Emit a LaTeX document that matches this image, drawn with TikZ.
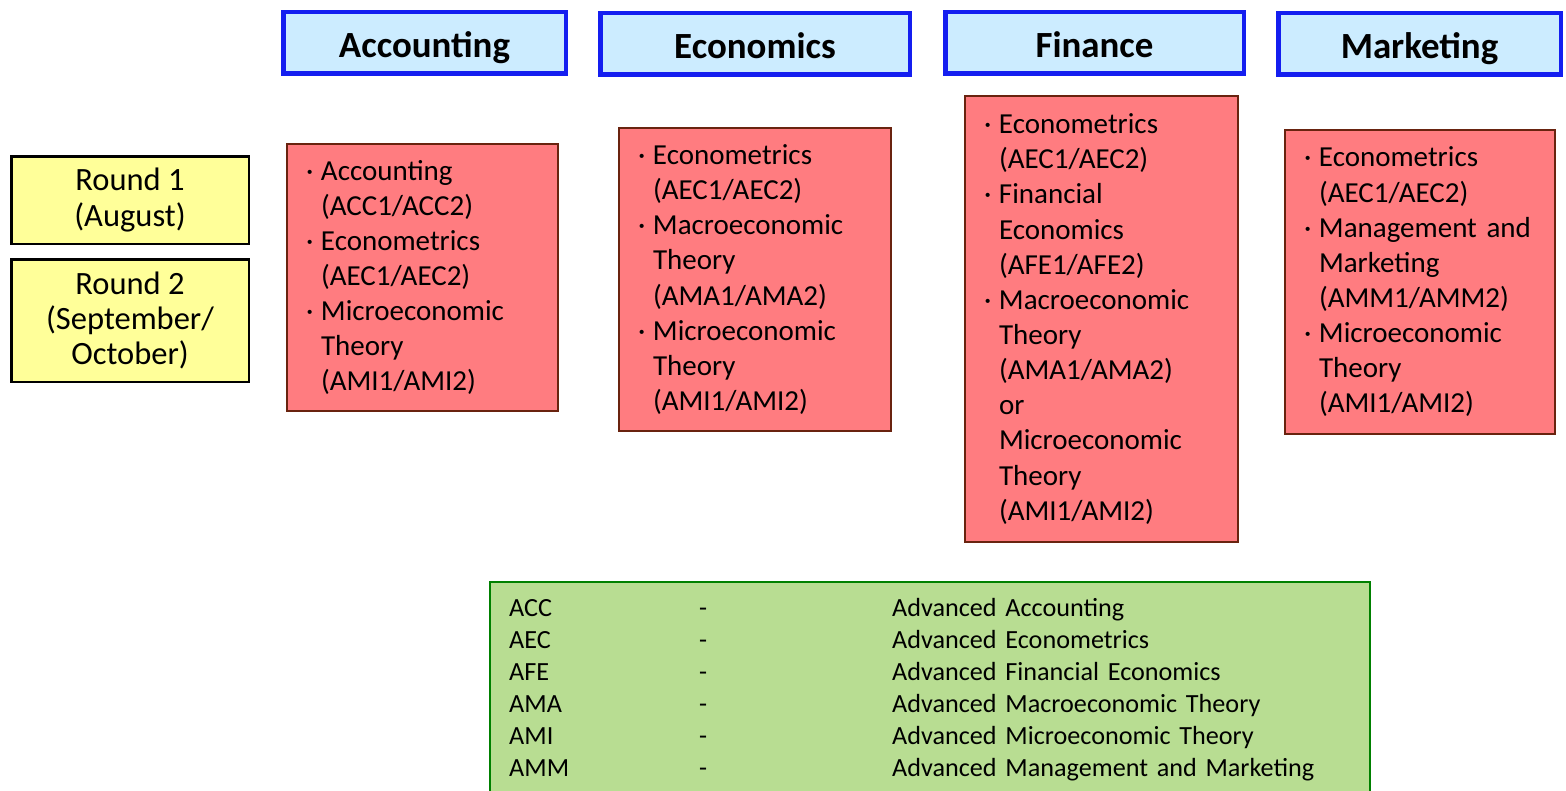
\documentclass[tikz,border=0pt]{standalone}
\usepackage{fontspec}
\setmainfont{Carlito}
\usetikzlibrary{matrix, positioning}
\definecolor{headfill}{RGB}{204,236,255}
\definecolor{headline}{RGB}{20,30,240}
\definecolor{roundfill}{RGB}{255,255,153}
\definecolor{coursefill}{RGB}{255,124,128}
\definecolor{courseline}{RGB}{105,35,15}
\definecolor{keyfill}{RGB}{184,221,146}
\definecolor{keyline}{RGB}{0,128,0}
\newcommand{\bul}{\makebox[0.3cm][l]{·}}
\newcommand{\ind}{\hspace*{0.3cm}}
\tikzset{
		headbox/.style={
			rectangle,
			draw=headline,
			fill=headfill,
			line width=0.09cm,
			minimum height=1.23cm,
			text height=0.71cm,
			text depth=0.15cm,
			font=\fontsize{21}{25}\selectfont\bfseries,
			inner sep=0pt,
			outer sep=0pt
		},
		roundbox/.style={
			rectangle,
			draw=black,
			fill=roundfill,
			line width=0.05cm,
			minimum width=4.75cm,
			align=center,
			font=\fontsize{18.5}{20}\selectfont,
			inner sep=0pt,
			outer sep=0pt
		},
		coursebox/.style={
			rectangle,
			draw=courseline,
			fill=coursefill,
			line width=0.03cm,
			anchor=north west,
			align=left,
			font=\fontsize{16.5}{20}\selectfont,
			inner xsep=0.38cm,
			inner ysep=0pt,
			outer sep=0pt
		},
		keybox/.style={
			rectangle,
			draw=keyline,
			fill=keyfill,
			line width=0.04cm,
			anchor=north west,
			minimum width=17.6cm,
			minimum height=5cm,
			outer sep=0pt
		},
		key table/.style={
			matrix of nodes,
			row sep=0.12cm,
			column sep=0pt,
			nodes={
				anchor=west,
				align=left,
				font=\fontsize{14.9}{18}\selectfont,
				text height=0.4cm,
				text depth=0.12cm,
				inner sep=0pt
			},
			column 1/.style={nodes={text width=3.8cm}},
			column 2/.style={nodes={text width=3.86cm}},
			column 3/.style={nodes={text width=9cm}}
		}
	}
\begin{document}
\begin{tikzpicture}
		\useasboundingbox (0,0) rectangle (31.32,-15.82);
		%subjects:
		\node[headbox, minimum width=5.65cm] (acc) at (8.49,-0.86) {Accounting};
		\node[headbox, minimum width=6.19cm] (eco) at (15.10,-0.88) {Economics};
		\node[headbox, minimum width=5.97cm] (fin) at (21.89,-0.86) {Finance};
		\node[headbox, minimum width=5.65cm] (mkt) at (28.39,-0.88) {Marketing};
		%rounds:
		\node[roundbox, minimum height=1.75cm] (r1) at (2.6,-4.0) {Round 1\\(August)};
		\node[roundbox, minimum height=2.45cm, below=0.31cm of r1] (r2) {Round 2\\(September/\\October)};
		%courses:
		\node[coursebox, text width=4.66cm, minimum height=5.34cm] (acc-c) at (5.74,-2.88)
			{\bul Accounting\\ \ind(ACC1/ACC2)\\ \bul Econometrics\\ \ind(AEC1/AEC2)\\
			 \bul Microeconomic\\ \ind Theory\\ \ind(AMI1/AMI2)};
		\node[coursebox, text width=4.68cm, minimum height=6.06cm] (eco-c) at (12.38,-2.56)
			{\bul Econometrics\\ \ind(AEC1/AEC2)\\ \bul Macroeconomic\\ \ind Theory\\ \ind(AMA1/AMA2)\\
			 \bul Microeconomic\\ \ind Theory\\ \ind(AMI1/AMI2)};
		\node[coursebox, text width=4.70cm, minimum height=8.92cm] (fin-c) at (19.30,-1.92)
			{\bul Econometrics\\ \ind(AEC1/AEC2)\\ \bul Financial\\ \ind Economics\\ \ind(AFE1/AFE2)\\
			 \bul Macroeconomic\\ \ind Theory\\ \ind(AMA1/AMA2)\\ \ind or\\ \ind Microeconomic\\
			 \ind Theory\\ \ind(AMI1/AMI2)};
		\node[coursebox, text width=4.64cm, minimum height=6.08cm] (mkt-c) at (25.70,-2.60)
			{\bul Econometrics\\ \ind(AEC1/AEC2)\\ \bul Management and\\ \ind Marketing\\ \ind(AMM1/AMM2)\\
			 \bul Microeconomic\\ \ind Theory\\ \ind(AMI1/AMI2)};
		%legend:
		\node[keybox] (key) at (9.8,-11.64) {};
		\matrix (abbr) [key table, anchor=north west] at ([xshift=0.26cm, yshift=-0.17cm]key.north west)
			{ ACC & - & Advanced Accounting \\
			  AEC & - & Advanced Econometrics \\
			  AFE & - & Advanced Financial Economics \\
			  AMA & - & Advanced Macroeconomic Theory \\
			  AMI & - & Advanced Microeconomic Theory \\
			  AMM & - & Advanced Management and Marketing \\ };
	\end{tikzpicture}
\end{document}
